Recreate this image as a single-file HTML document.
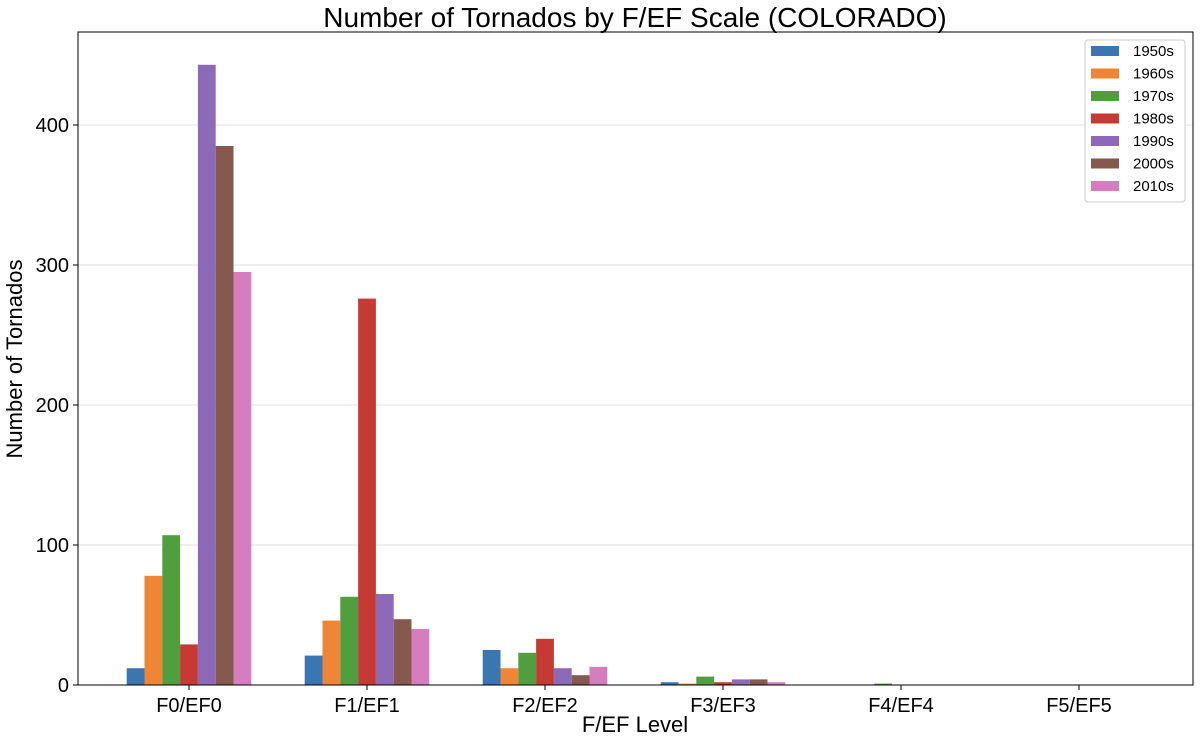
<!DOCTYPE html>
<html><head><meta charset="utf-8"><style>
body{margin:0;background:#fff;}
svg text{font-family:"Liberation Sans",sans-serif;}
</style></head><body>
<svg id="chart" width="1203" height="742" xmlns="http://www.w3.org/2000/svg">
<text x="635" y="27" font-size="28" text-anchor="middle" fill="#000">Number of Tornados by F/EF Scale (COLORADO)</text>
<g id="grid"></g>
<g id="bars"></g>
<rect x="78" y="32" width="1115" height="653" fill="none" stroke="#000" stroke-width="1"/>
<g id="axes"></g>
<text x="635" y="732" font-size="22" text-anchor="middle">F/EF Level</text>
<text transform="translate(22,359) rotate(-90)" font-size="22" text-anchor="middle">Number of Tornados</text>
<g id="legend"></g>
</svg>
<script>
const categories=["F0/EF0","F1/EF1","F2/EF2","F3/EF3","F4/EF4","F5/EF5"];
const seriesNames=["1950s","1960s","1970s","1980s","1990s","2000s","2010s"];
const s1950=[12,21,25,2,0,0];
const s1960=[78,46,12,1,0,0];
const s1970=[107,63,23,6,1,0];
const s1980=[29,276,33,2,0,0];
const s1990=[443,65,12,4,0,0];
const s2000=[385,47,7,4,0,0];
const s2010=[295,40,13,2,0,0];
const yTicks=[0,100,200,300,400];
const colors=["#3a76af","#ef8636","#519e3e","#c53a32","#8d6ab8","#85594e","#d57dbf"];
const series=[s1950,s1960,s1970,s1980,s1990,s2000,s2010];
const NS="http://www.w3.org/2000/svg";
const x0=78,x1=1193,yBase=685,pxPer=1.4;
const y=v=>yBase-v*pxPer;
const groupCenter=i=>189+i*178;
const bw=17.8;
function mk(tag,attrs,parent){const e=document.createElementNS(NS,tag);for(const k in attrs)e.setAttribute(k,attrs[k]);parent.appendChild(e);return e;}
const grid=document.getElementById('grid'),bars=document.getElementById('bars'),axes=document.getElementById('axes'),legend=document.getElementById('legend');
yTicks.forEach(t=>{
  if(t>0){const g=mk('line',{x1:x0,x2:x1,y1:y(t),y2:y(t),stroke:'#e0e0e0','stroke-width':1},grid);
  
  }
  mk('line',{x1:x0-5,x2:x0,y1:y(t),y2:y(t),stroke:'#000'},axes);
  const tx=mk('text',{x:x0-9,y:y(t)+7,'font-size':20,'text-anchor':'end'},axes);
  tx.textContent=t;
  
  
});
categories.forEach((c,i)=>{
  const cx=groupCenter(i);
  mk('line',{x1:cx,x2:cx,y1:yBase,y2:yBase+5,stroke:'#000'},axes);
  const tx=mk('text',{x:cx,y:yBase+27,'font-size':20,'text-anchor':'middle'},axes);
  tx.textContent=c;
  
  
  series.forEach((s,j)=>{
    const v=s[i];if(v<=0)return;
    const r=mk('rect',{x:cx-3.5*bw+j*bw,y:y(v),width:bw,height:v*pxPer,fill:colors[j]},bars);
    
    
  });
});
const lg=mk('rect',{x:1085,y:40,width:100,height:162,fill:'#fff',stroke:'#ccc',rx:3},legend);


seriesNames.forEach((n,j)=>{
  const g=mk('g',{},legend);
  
  
  const yy=46+j*22.5;
  mk('rect',{x:1091,y:yy,width:28,height:10,fill:colors[j]},g);
  const t=mk('text',{x:1133,y:yy+10,'font-size':15},g);
  t.textContent=n;
});
</script>
</body></html>
